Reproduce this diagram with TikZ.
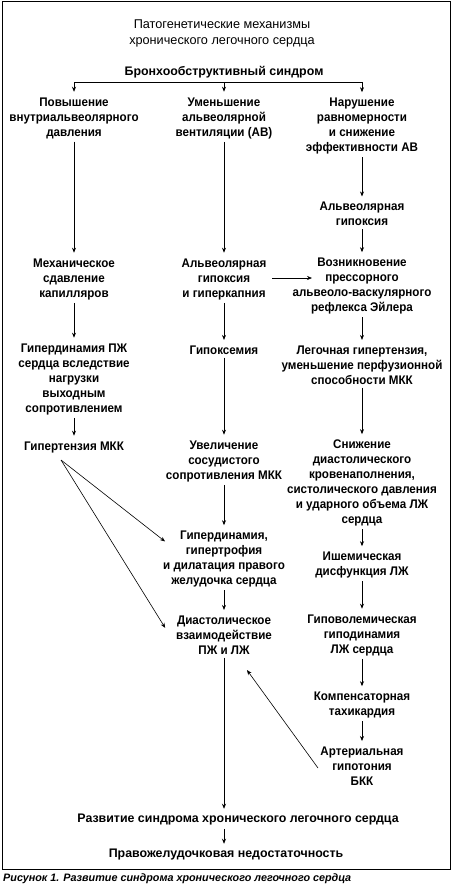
\documentclass[tikz,border=0pt]{standalone}
\usepackage{fontspec}
\setmainfont{Liberation Sans}
\newfontfamily\nf{Liberation Sans}[FakeStretch=0.93]
\newfontfamily\capf{Liberation Sans}
\usetikzlibrary{arrows.meta}
\begin{document}
\begin{tikzpicture}[x=1pt,y=-1pt]
\tikzset{
  box/.style={font=\nf\bfseries\fontsize{12.5}{15}\selectfont, align=center, inner xsep=2pt, inner ysep=3pt},
  hdr/.style={font=\bfseries\fontsize{12.4}{15}\selectfont, align=center, inner xsep=2pt, inner ysep=3pt},
  ttl/.style={font=\fontsize{12.7}{16}\selectfont, align=center, inner sep=2pt},
  arr/.style={-{Stealth[length=5pt,width=4pt]}, line width=0.6pt, shorten >=2.5pt},
  ln/.style={line width=0.6pt},
}
\useasboundingbox (0,0) rectangle (452,886);
\draw[line width=1.3pt] (2.2,1.5) rectangle (450.8,869.5);

\node[ttl] (title) at (222,33) {Патогенетические механизмы\\хронического легочного сердца};
\node[hdr] (bs) at (224,72) {Бронхообструктивный синдром};

\node[box] (L1) at (74,118) {Повышение\\внутриальвеолярного\\давления};
\node[box] (M1) at (224,118) {Уменьшение\\альвеолярной\\вентиляции (АВ)};
\node[box] (R1) at (362,126) {Нарушение\\равномерности\\и снижение\\эффективности АВ};
\node[box] (R1b) at (362,214) {Альвеолярная\\гипоксия};
\node[box] (L2) at (74,279) {Механическое\\сдавление\\капилляров};
\node[box] (M2) at (224,279) {Альвеолярная\\гипоксия\\и гиперкапния};
\node[box] (R2) at (362,286) {Возникновение\\прессорного\\альвеоло-васкулярного\\рефлекса Эйлера};
\node[box] (L3) at (74,379) {Гипердинамия ПЖ\\сердца вследствие\\нагрузки\\выходным\\сопротивлением};
\node[box] (M3) at (224,350) {Гипоксемия};
\node[box] (R3) at (362,365) {Легочная гипертензия,\\уменьшение перфузионной\\способности МКК};
\node[box] (L4) at (74,447) {Гипертензия МКК};
\node[box] (M4) at (224,461) {Увеличение\\сосудистого\\сопротивления МКК};
\node[box] (R4) at (362,483) {Снижение\\диастолического\\кровенаполнения,\\систолического давления\\и ударного объема ЛЖ\\сердца};
\node[box] (M5) at (224,559) {Гипердинамия,\\гипертрофия\\и дилатация правого\\желудочка сердца};
\node[box] (R5) at (362,565) {Ишемическая\\дисфункция ЛЖ};
\node[box] (M6) at (224,635) {Диастолическое\\взаимодействие\\ПЖ и ЛЖ};
\node[box] (R6) at (362,635) {Гиповолемическая\\гиподинамия\\ЛЖ сердца};
\node[box] (R7) at (362,705) {Компенсаторная\\тахикардия};
\node[box] (R8) at (362,766) {Артериальная\\гипотония\\БКК};
\node[hdr] (B1) at (238,820) {Развитие синдрома хронического легочного сердца};
\node[hdr] (B2) at (226,855) {Правожелудочковая недостаточность};

\node[font=\capf\bfseries\itshape\fontsize{10.8}{12}\selectfont, anchor=west, inner sep=0pt] (cap) at (3,879) {Рисунок 1. Развитие синдрома хронического легочного сердца};

% top distribution bar
\coordinate (cL) at (74,82);
\coordinate (cM) at (224,82);
\coordinate (cR) at (362,82);
\draw[ln] (cL) -- (cR);
\draw[arr] (cL) -- (L1);
\draw[arr] (cM) -- (M1);
\draw[arr] (cR) -- (R1);

% left column
\draw[arr] (L1) -- (L2);
\draw[arr] (L2) -- (L3);
\draw[arr] (L3) -- (L4);

% middle column
\draw[arr] (M1) -- (M2);
\draw[arr] (M2) -- (M3);
\draw[arr] (M3) -- (M4);
\draw[arr] (M4) -- (M5);
\draw[arr] (M5) -- (M6);
\draw[arr] (M6.south) -- (M6.south |- B1.north);
\draw[arr] (B1.south -| M6.south) -- (M6.south |- B2.north);

% right column
\draw[arr] (R1) -- (R1b);
\draw[arr] (R1b) -- (R2);
\draw[arr] (R2) -- (R3);
\draw[arr] (R3) -- (R4);
\draw[arr] (R4) -- (R5);
\draw[arr] (R5) -- (R6);
\draw[arr] (R6) -- (R7);
\draw[arr] (R7) -- (R8);

% cross connections
\coordinate (hs) at (272,278);
\coordinate (he) at (314.5,278);
\draw[arr] (hs) -- (he);
\coordinate (dgs) at (61,460);
\coordinate (dge1) at (167,543);
\coordinate (dge2) at (166.5,630);
\draw[arr] (dgs) -- (dge1);
\draw[arr] (dgs) -- (dge2);
\coordinate (rgs) at (318,768);
\coordinate (rge) at (245.5,668);
\draw[arr] (rgs) -- (rge);
\end{tikzpicture}
\end{document}
